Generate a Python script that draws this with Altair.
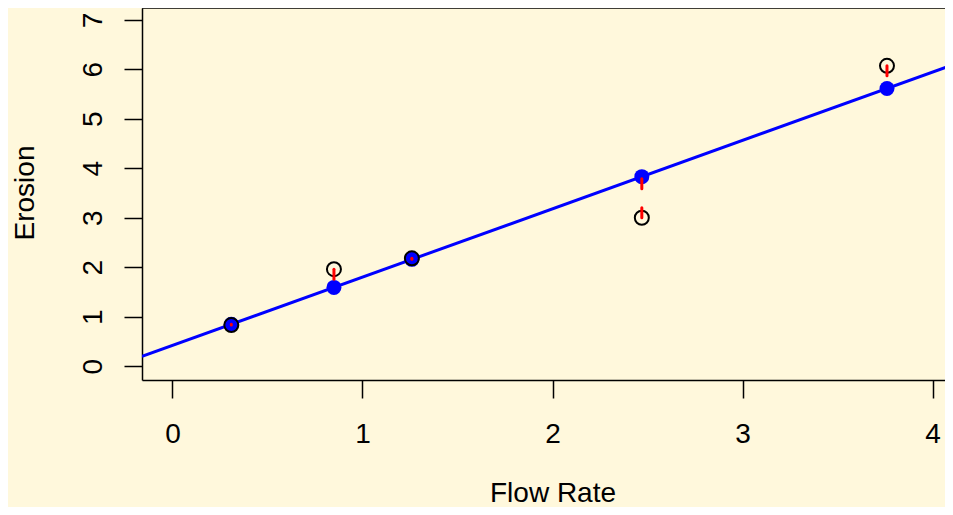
import altair as alt
import numpy as np
import pandas as pd

# ---- data ----
flow_rate = [0.31, 0.85, 1.26, 2.47, 3.76]
erosion = [0.83, 1.96, 2.18, 3.00, 6.07]
x_ticks = [0, 1, 2, 3, 4]
y_ticks = [0, 1, 2, 3, 4, 5, 6, 7]
x_lim = [0, 4]
y_lim = [0, 7]

# least-squares fit (as lm() would give)
slope, intercept = np.polyfit(flow_rate, erosion, 1)
fitted = [float(intercept + slope * x) for x in flow_rate]


def r_range(lim):
    r = lim[1] - lim[0]
    return [lim[0] - 0.04 * r, lim[1] + 0.04 * r]


FULL_W, FULL_H = 821, 374   # full R plot region (cut by the window)
W, H = 803, 372             # visible plot area
x_full = r_range(x_lim)
x_dom = [x_full[0], x_full[0] + (x_full[1] - x_full[0]) * W / FULL_W]
y_full = r_range(y_lim)
y_dom = [y_full[0], y_full[0] + (y_full[1] - y_full[0]) * H / FULL_H]

FONT = "Liberation Sans"
FS = 28
BG = "#FFF8DC"

df = pd.DataFrame({"flow": flow_rate, "erosion": erosion, "fitted": fitted})
line_df = pd.DataFrame({
    "x": [x_full[0]], "x2": [x_full[1]],
    "y": [intercept + slope * x_full[0]], "y2": [intercept + slope * x_full[1]],
})
frame_df = pd.DataFrame({"k": [0]})

x_axis = alt.Axis(
    values=x_ticks, grid=False, tickSize=18, tickWidth=1.5, tickColor="black",
    domainColor="black", domainWidth=1.5, labelFont=FONT, labelFontSize=FS,
    labelColor="black", labelBaseline="alphabetic", labelAlign="center",
    labelPadding=44.7, labelFlush=False, labelOverlap=False,
    title="Flow Rate", titleFont=FONT, titleFontSize=FS, titleFontWeight="normal",
    titleColor="black", titleBaseline="alphabetic", titleAlign="center",
    titleX=FULL_W / 2, titleY=121, format="d",
)
y_axis = alt.Axis(
    values=y_ticks, grid=False, tickSize=18, tickWidth=1.5, tickColor="black",
    domainColor="black", domainWidth=1.5, labelFont=FONT, labelFontSize=FS,
    labelColor="black", labelAngle=270, labelAlign="center",
    labelBaseline="alphabetic", labelPadding=23, labelFlush=False,
    labelOverlap=False,
    title="Erosion", titleFont=FONT, titleFontSize=FS, titleFontWeight="normal",
    titleColor="black", titleAngle=270, titleBaseline="alphabetic",
    titleAlign="center", titleX=-108.7, titleY=184.5, format="d",
)

xs = alt.Scale(domain=x_dom, nice=False, zero=False)
ys = alt.Scale(domain=y_dom, nice=False, zero=False)

fit_line = alt.Chart(line_df).mark_rule(color="blue", strokeWidth=3, clip=True).encode(
    x=alt.X("x:Q", scale=xs, axis=x_axis),
    x2="x2:Q",
    y=alt.Y("y:Q", scale=ys, axis=y_axis),
    y2="y2:Q",
)

fit_pts = alt.Chart(df).mark_circle(color="blue", size=225, opacity=1).encode(
    x="flow:Q", y="fitted:Q"
)

obs_pts = alt.Chart(df).mark_point(
    shape="circle", filled=False, color="black", strokeWidth=2, size=196, opacity=1
).encode(x="flow:Q", y="erosion:Q")

resid = alt.Chart(df).mark_rule(
    color="red", strokeWidth=3, strokeDash=[10, 19], strokeCap="round"
).encode(x="flow:Q", y="erosion:Q", y2="fitted:Q")

top_border = alt.Chart(frame_df).mark_rule(color="black", strokeWidth=1.5).encode(
    x=alt.value(0), x2=alt.value(W), y=alt.value(0)
)

chart = (
    alt.layer(fit_line, fit_pts, obs_pts, resid, top_border)
    .properties(
        width=W, height=H,
        autosize=alt.AutoSizeParams(type="none"),
        padding={"left": 134, "top": 0, "right": 0, "bottom": 127},
        background=BG,
    )
    .configure_view(stroke=None)
)

chart.save("out.html", embed_options={"renderer": "svg", "actions": False})
